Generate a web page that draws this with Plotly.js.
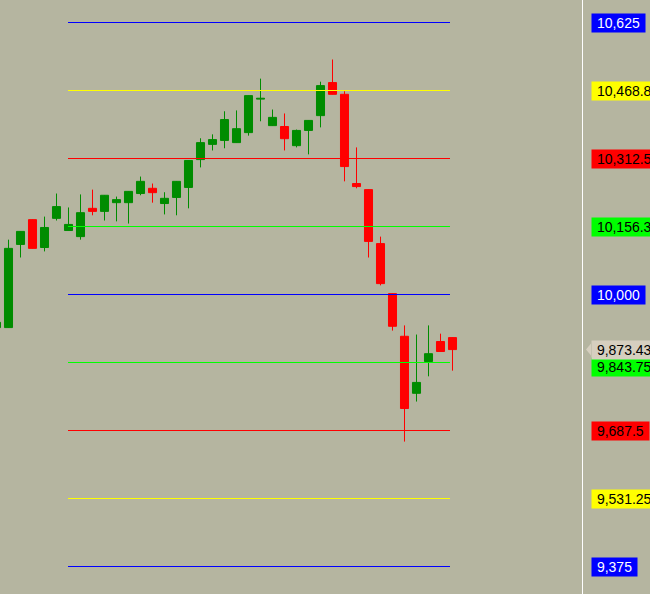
<!DOCTYPE html>
<html><head><meta charset="utf-8">
<script src="https://cdn.plot.ly/plotly-3.0.1.min.js"></script>
<style>html,body{margin:0;padding:0;background:#b5b5a0;overflow:hidden}</style>
</head><body><div id="chart" style="width:650px;height:594px"></div>
<script>
// ---- data ----
const barIndex = [0,1,2,3,4,5,6,7,8,9,10,11,12,13,14,15,16,17,18,19,20,21,22,23,24,25,26,27,28,29,30,31,32,33,34,35,36,37,38];
const openP  = [9924,9924,10115,10172,10108,10175,10147,10133,10198,10191,10211,10211,10232,10244,10209,10223,10246,10310,10345,10354,10349,10372,10449,10388,10386,10342,10377,10411,10487,10460,10255,10241,10117,10002,9904,9773,9846,9892,9901];
const highP  = [9936,10126,10145,10172,10179,10232,10200,10230,10241,10228,10225,10237,10271,10255,10235,10260,10308,10359,10368,10421,10423,10457,10496,10425,10416,10379,10400,10489,10540,10467,10338,10241,10133,10002,9929,9908,9929,9910,9901];
const lowP   = [9924,9924,10085,10106,10099,10170,10147,10126,10182,10170,10168,10163,10228,10211,10184,10182,10198,10292,10331,10336,10349,10365,10398,10388,10331,10338,10322,10384,10460,10260,10244,10085,10021,9917,9662,9754,9812,9869,9825];
const closeP = [9936,10106,10145,10106,10154,10202,10161,10188,10191,10228,10218,10237,10260,10234,10221,10260,10308,10349,10356,10402,10381,10457,10451,10407,10358,10377,10400,10480,10460,10294,10248,10122,10025,9927,9738,9798,9864,9869,9873.43];
const levels = [10625,10468.75,10312.5,10156.25,10000,9843.75,9687.5,9531.25,9375];
const levelColors = ['#0000ff','#ffff00','#ff0000','#00ff00','#0000ff','#00ff00','#ff0000','#ffff00','#0000ff'];
const levelTextColors = ['#ffffff','#000000','#000000','#000000','#ffffff','#000000','#000000','#000000','#ffffff'];
const lastPrice = 9873.43;

// ---- styling ----
const BG = '#b5b5a0', UP = '#008c00', DOWN = '#ff0000';
const W = 650, H = 594, PLOT_W = 582;
const Y_RANGE = [9311.82, 10676.70];
const X_RANGE = [0.29167, 0.29167 + PLOT_W / 12];
const FONT = 'Liberation Sans, Arial, sans-serif';

const isUp = barIndex.map(i => closeP[i] >= openP[i]);
const colors = isUp.map(u => u ? UP : DOWN);

function wickTrace(up) {
  const xs = [], ys = [];
  barIndex.forEach(i => {
    if (isUp[i] === up) { xs.push(i, i, null); ys.push(lowP[i], highP[i], null); }
  });
  return {type:'scatter', mode:'lines', x:xs, y:ys, line:{color: up?UP:DOWN, width:1},
          hoverinfo:'skip', showlegend:false, cliponaxis:true};
}

const bodies = {
  type:'bar', x:barIndex,
  base: barIndex.map(i => Math.min(openP[i], closeP[i])),
  y: barIndex.map(i => Math.abs(closeP[i] - openP[i])),
  width: 0.67,
  marker:{color:colors, line:{color:colors, width:1}},
  hoverinfo:'skip', showlegend:false
};

// price labels show 6 significant digits
const fmt = v => Number(v.toPrecision(6)).toLocaleString('en-US', {maximumFractionDigits:2});
const pxPerUnit = H / (Y_RANGE[1] - Y_RANGE[0]);

const shapes = levels.map((v, k) => ({
  type:'line', xref:'paper', yref:'y', x0:68/PLOT_W, x1:450/PLOT_W, y0:v, y1:v,
  line:{color:levelColors[k], width:1}
}));
shapes.push({type:'line', xref:'paper', yref:'paper', x0:582.5/PLOT_W, x1:582.5/PLOT_W, y0:0, y1:1,
  line:{color:'#ffffff', width:1}});
// pointer of last-price tag
const tri = 6 / pxPerUnit;
shapes.push({type:'path', xref:'paper', yref:'y',
  path:`M ${586/PLOT_W} ${lastPrice} L ${591/PLOT_W} ${lastPrice+tri} L ${591/PLOT_W} ${lastPrice-tri} Z`,
  fillcolor:'#d6cfbf', line:{width:0}});

const annotations = levels.map((v, k) => {
  const dist = (lastPrice - v) * pxPerUnit;
  let ys = 0;
  if (Math.abs(dist) < 17) ys = dist > 0 ? -(17 - dist) : (17 + dist);
  return {
    xref:'paper', yref:'y', x:1, y:v, xanchor:'left', yanchor:'middle', xshift:9, yshift:ys,
    text:'\u00a0' + fmt(v) + '\u00a0', showarrow:false, bgcolor:levelColors[k], borderpad:1,
    font:{family:FONT, size:14, color:levelTextColors[k]}
  };
});
annotations.push({
  xref:'paper', yref:'y', x:1, y:lastPrice, xanchor:'left', yanchor:'middle', xshift:9,
  text:'\u00a0' + fmt(lastPrice) + '\u00a0', showarrow:false, bgcolor:'#d6cfbf', borderpad:1,
  font:{family:FONT, size:14, color:'#000000'}
});

const layout = {
  width:W, height:H, margin:{l:0, r:W-PLOT_W, t:0, b:0, pad:0},
  paper_bgcolor:BG, plot_bgcolor:BG, barmode:'overlay', bargap:0,
  xaxis:{range:X_RANGE, visible:false, fixedrange:true},
  yaxis:{range:Y_RANGE, visible:false, fixedrange:true},
  shapes, annotations, showlegend:false
};

Plotly.newPlot('chart', [wickTrace(true), wickTrace(false), bodies], layout, {displayModeBar:false, staticPlot:true});
</script></body></html>
